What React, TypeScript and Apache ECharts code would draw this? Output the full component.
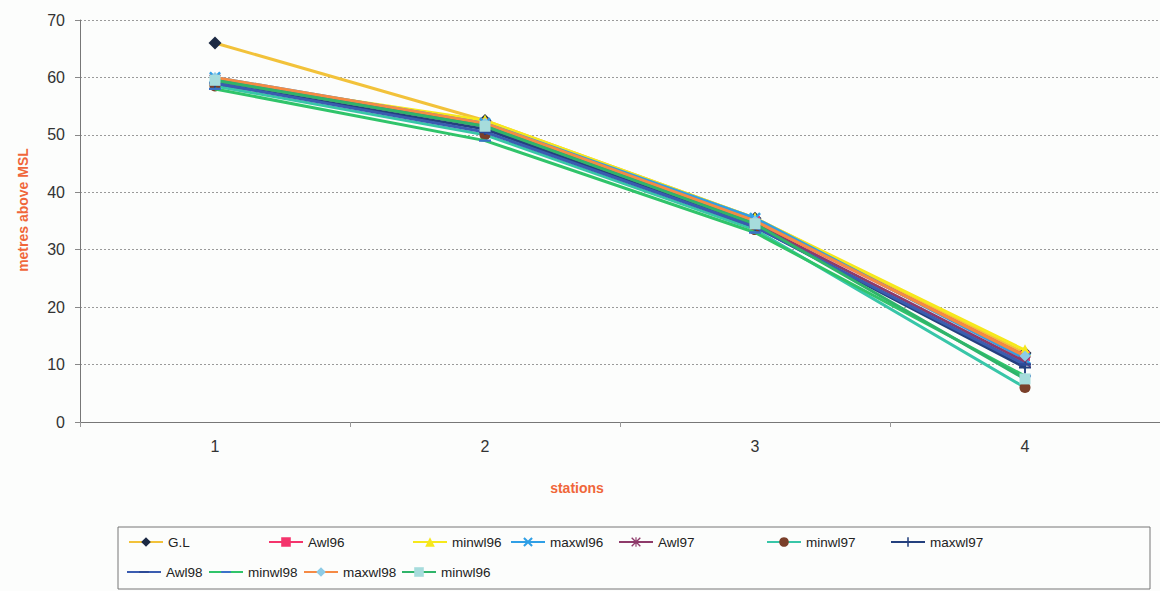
import React, { useEffect, useRef } from "react";
import * as echarts from "echarts";

const stations = ["1", "2", "3", "4"];
const yTicks = { min: 0, max: 70, interval: 10 };

const seriesNames = ["G.L", "Awl96", "minwl96", "maxwl96", "Awl97", "minwl97", "maxwl97", "Awl98", "minwl98", "maxwl98", "minwl96b"];
const displayNames: Record<string, string> = { minwl96b: "minwl96" };

const glValues = [66, 52.5, 35.5, 12];
const awl96Values = [59.5, 52, 35, 11.5];
const minwl96Values = [59.5, 52.5, 35.5, 12.5];
const maxwl96Values = [60, 52, 35.5, 11];
const awl97Values = [59.5, 51.5, 34.5, 10.5];
const minwl97Values = [58.5, 50, 33.5, 6];
const maxwl97Values = [59, 51, 34, 9.5];
const awl98Values = [59, 50.5, 34, 10];
const minwl98Values = [58, 49, 33, 8];
const maxwl98Values = [60, 52, 35, 11.5];
const minwl96bValues = [59.5, 51.5, 34.5, 7.5];

const SYM_X = "path://M0,1.5 L1.5,0 L5,3.5 L8.5,0 L10,1.5 L6.5,5 L10,8.5 L8.5,10 L5,6.5 L1.5,10 L0,8.5 L3.5,5 Z";
const SYM_PLUS = "path://M4.2,0 H5.8 V4.2 H10 V5.8 H5.8 V10 H4.2 V5.8 H0 V4.2 H4.2 Z";
const SYM_STAR = "path://M0,1 L1,0 L10,9 L9,10 Z M9,0 L10,1 L1,10 L0,9 Z M4.4,0 H5.6 V10 H4.4 Z";
const SYM_DASH = "path://M0,0 L0.01,0 L0,0.01 Z M0,4 H10 V6 H0 Z M10,10 L9.99,10 L10,9.99 Z";

const styles: { line: string; marker: string; symbol: string; size: number }[] = [
  { line: "#f2c23a", marker: "#1c2a44", symbol: "diamond", size: 13 },
  { line: "#f4346c", marker: "#f4346c", symbol: "rect", size: 10 },
  { line: "#f6e81c", marker: "#f6e81c", symbol: "triangle", size: 12 },
  { line: "#2f9fe6", marker: "#2f9fe6", symbol: SYM_X, size: 12 },
  { line: "#8e3a6a", marker: "#8e3a6a", symbol: SYM_STAR, size: 12 },
  { line: "#38c6a8", marker: "#7a3f2a", symbol: "circle", size: 11 },
  { line: "#24407e", marker: "#24407e", symbol: SYM_PLUS, size: 12 },
  { line: "#3a5cb0", marker: "#2c4a96", symbol: SYM_DASH, size: 12 },
  { line: "#30c46a", marker: "#3a72c8", symbol: SYM_DASH, size: 12 },
  { line: "#f58a44", marker: "#8ccbe6", symbol: "diamond", size: 11 },
  { line: "#2fb46a", marker: "#a6dcdc", symbol: "rect", size: 11 },
];

const allValues = [glValues, awl96Values, minwl96Values, maxwl96Values, awl97Values, minwl97Values, maxwl97Values, awl98Values, minwl98Values, maxwl98Values, minwl96bValues];

const legendLefts = [128, 268, 412, 510, 618, 766, 890, 126, 208, 303, 401];
const legendTops = [535, 535, 535, 535, 535, 535, 535, 565, 565, 565, 565];

export default function App() {
  const ref = useRef<HTMLDivElement>(null);
  useEffect(() => {
    if (!ref.current) return;
    const chart = echarts.init(ref.current, undefined, { renderer: "svg" });
    const font = "'Liberation Sans', Arial, sans-serif";
    chart.setOption({
      animation: false,
      backgroundColor: "#fcfdfc",
      textStyle: { fontFamily: font },
      grid: { left: 80, top: 20, width: 1083, height: 402 },
      xAxis: {
        type: "category",
        data: stations,
        boundaryGap: true,
        axisLine: { lineStyle: { color: "#777", width: 1 } },
        axisTick: { show: true, length: 5, lineStyle: { color: "#999" } },
        axisLabel: { color: "#333", fontSize: 16, margin: 16, fontFamily: font },
        splitLine: { show: false },
      },
      yAxis: {
        type: "value",
        min: yTicks.min,
        max: yTicks.max,
        interval: yTicks.interval,
        name: "metres above MSL",
        nameLocation: "middle",
        nameGap: 50,
        nameTextStyle: { color: "#f0663a", fontSize: 14, fontWeight: "bold", fontFamily: font, padding: [0, 0, 0, 22] },
        axisLine: { show: true, lineStyle: { color: "#777", width: 1 } },
        axisTick: { show: true, length: 5, lineStyle: { color: "#888" } },
        axisLabel: { color: "#333", fontSize: 16, margin: 15, fontFamily: font },
        splitLine: { show: true, lineStyle: { color: "#9a9a9a", width: 1, type: [2, 2] } },
      },
      legend: seriesNames.map((n, i) => ({
        data: [n],
        left: legendLefts[i],
        top: legendTops[i],
        itemWidth: 34,
        itemHeight: 12,
        padding: 0,
        formatter: (name: string) => displayNames[name] || name,
        textStyle: { color: "#222", fontSize: 13.5, fontFamily: font },
      })),
      graphic: [
        {
          type: "rect",
          shape: { x: 118, y: 527, width: 1032, height: 62 },
          style: { fill: "none", stroke: "#777", lineWidth: 1 },
          silent: true,
        },
        {
          type: "text",
          x: 577,
          y: 488,
          style: {
            text: "stations",
            fill: "#f0663a",
            fontSize: 14,
            fontWeight: "bold",
            fontFamily: font,
            textAlign: "center",
            textVerticalAlign: "middle",
          },
        },
      ],
      series: seriesNames.map((n, i) => ({
        name: n,
        type: "line",
        data: allValues[i],
        symbol: styles[i].symbol,
        symbolSize: styles[i].size,
        showSymbol: true,
        lineStyle: { color: styles[i].line, width: 3 },
        itemStyle: { color: styles[i].marker, borderColor: styles[i].marker, borderWidth: 0 },
        z: 2 + i,
      })),
    });
    return () => chart.dispose();
  }, []);
  return <div ref={ref} style={{ position: "fixed", left: 0, top: 0, width: 1160, height: 591 }} />;
}
